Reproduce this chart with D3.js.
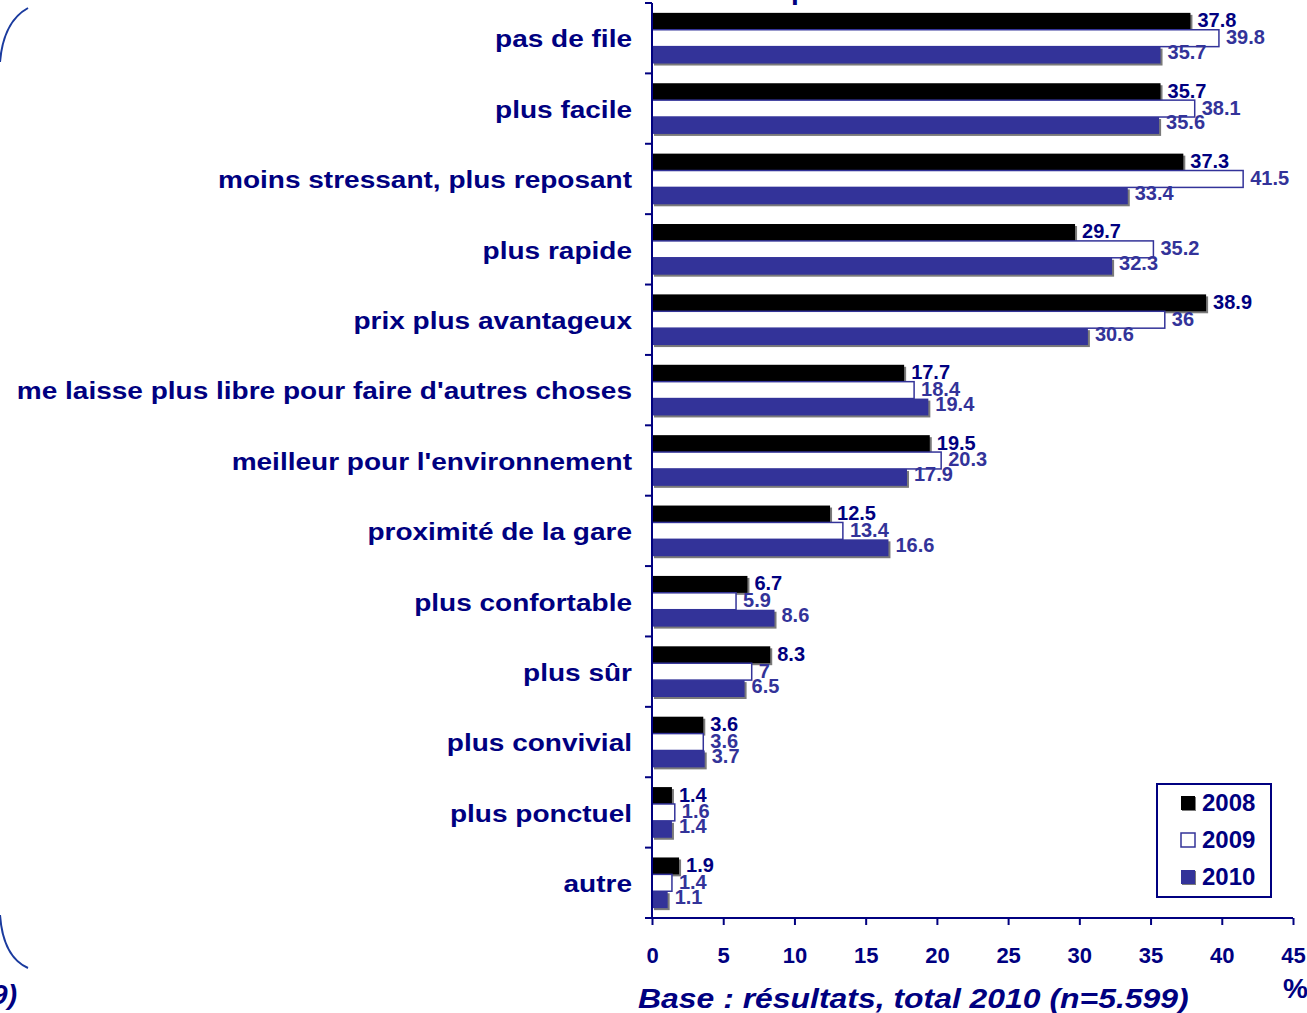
<!DOCTYPE html>
<html>
<head>
<meta charset="utf-8">
<script src="https://cdn.jsdelivr.net/npm/d3@7"></script>
<style>
    html, body { margin: 0; padding: 0; background: #fff; overflow: hidden; }
    svg { display: block; font-family: 'Liberation Sans', Arial, sans-serif; }
</style>
</head>
<body>
<svg id="chart"></svg>
<script>
// categories (top to bottom)
const categories = [
    'pas de file',
    'plus facile',
    'moins stressant, plus reposant',
    'plus rapide',
    'prix plus avantageux',
    "me laisse plus libre pour faire d'autres choses",
    "meilleur pour l'environnement",
    'proximité de la gare',
    'plus confortable',
    'plus sûr',
    'plus convivial',
    'plus ponctuel',
    'autre'
];
const years = ['2008', '2009', '2010'];
const values2008 = [37.8, 35.7, 37.3, 29.7, 38.9, 17.7, 19.5, 12.5, 6.7, 8.3, 3.6, 1.4, 1.9];
const values2009 = [39.8, 38.1, 41.5, 35.2, 36, 18.4, 20.3, 13.4, 5.9, 7, 3.6, 1.6, 1.4];
const values2010 = [35.7, 35.6, 33.4, 32.3, 30.6, 19.4, 17.9, 16.6, 8.6, 6.5, 3.7, 1.4, 1.1];
const xTicks = [0, 5, 10, 15, 20, 25, 30, 35, 40, 45];
const footnote = 'Base : résultats, total 2010 (n=5.599)';

const W = 1307, H = 1013;
const NAVY = '#000080', BLUE = '#333399';
const STRETCH = 1.167; // the slide fonts are drawn wider than normal

const series = [
    { key: '2008', values: values2008, fill: '#000000', stroke: 'none', label: NAVY, shadow: true, dy: -1 },
    { key: '2009', values: values2009, fill: '#ffffff', stroke: BLUE, label: BLUE, shadow: false, dy: -1 },
    { key: '2010', values: values2010, fill: BLUE, stroke: 'none', label: BLUE, shadow: true, dy: -3 }
];

const svg = d3.select('#chart').attr('width', W).attr('height', H);

// scales
const x = d3.scaleLinear().domain([0, 45]).range([652, 1293]);
const y = d3.scaleBand().domain(categories).range([3, 918])
    .paddingInner(0.28).paddingOuter(0.14);
const ySub = d3.scaleBand().domain(years).range([0, y.bandwidth()]);

// bars
const groups = svg.append('g').attr('class', 'bars')
    .selectAll('g.cat')
    .data(categories)
    .enter().append('g')
    .attr('class', 'cat')
    .attr('transform', d => 'translate(0,' + y(d) + ')');

series.forEach(function(s) {
    groups.each(function(cat, i) {
        let g = d3.select(this);
        let v = s.values[i];
        let by = ySub(s.key);
        let h = ySub.bandwidth();
        if (s.shadow) {
            g.append('rect')
                .attr('x', x(0) + 2).attr('y', by + 2)
                .attr('width', x(v) - x(0)).attr('height', h)
                .attr('fill', '#7a7a7a');
        }
        g.append('rect')
            .attr('x', x(0)).attr('y', by)
            .attr('width', x(v) - x(0)).attr('height', h)
            .attr('fill', s.fill)
            .attr('stroke', s.stroke)
            .attr('stroke-width', 1.5);
    });
});

// value labels
series.forEach(function(s) {
    groups.append('text')
        .attr('x', (d, i) => x(s.values[i]) + 7)
        .attr('y', ySub(s.key) + ySub.bandwidth() / 2 + s.dy)
        .attr('dominant-baseline', 'central')
        .attr('font-size', 20)
        .attr('font-weight', 'bold')
        .attr('fill', s.label)
        .text((d, i) => s.values[i]);
});

// category axis
const yAxis = svg.append('g').attr('class', 'y-axis');
yAxis.append('line')
    .attr('x1', x(0)).attr('x2', x(0))
    .attr('y1', y.range()[0]).attr('y2', y.range()[1])
    .attr('stroke', NAVY).attr('stroke-width', 2);
let bounds = d3.range(categories.length + 1).map(k => y.range()[0] + k * y.step());
yAxis.selectAll('line.tick')
    .data(bounds)
    .enter().append('line')
    .attr('class', 'tick')
    .attr('x1', x(0) - 7).attr('x2', x(0))
    .attr('y1', d => d).attr('y2', d => d)
    .attr('stroke', NAVY).attr('stroke-width', 2);
yAxis.selectAll('text.cat')
    .data(categories)
    .enter().append('text')
    .attr('class', 'cat')
    .attr('transform', d => 'translate(632,' + (y(d) + y.bandwidth() / 2 + 1) + ') scale(' + STRETCH + ',1)')
    .attr('text-anchor', 'end')
    .attr('dominant-baseline', 'central')
    .attr('font-size', 24)
    .attr('font-weight', 'bold')
    .attr('fill', NAVY)
    .text(d => d);

// value axis
const xAxis = svg.append('g')
    .attr('class', 'x-axis')
    .attr('transform', 'translate(0,' + y.range()[1] + ')')
    .call(d3.axisBottom(x).tickValues(xTicks).tickSize(7).tickSizeOuter(0).tickPadding(22));
xAxis.select('.domain').attr('stroke', NAVY).attr('stroke-width', 2)
    .attr('d', 'M' + (x(0) - 7) + ',0H' + x(45));
xAxis.selectAll('.tick line').attr('stroke', NAVY).attr('stroke-width', 2);
xAxis.selectAll('.tick text')
    .attr('fill', NAVY)
    .attr('font-size', 22)
    .attr('font-weight', 'bold')
    .attr('font-family', "'Liberation Sans', Arial, sans-serif");

svg.append('text')
    .attr('x', 1283).attr('y', 998)
    .attr('font-size', 28).attr('font-weight', 'bold')
    .attr('fill', NAVY)
    .text('%');

// footnote
svg.append('text')
    .attr('transform', 'translate(638,1008) scale(1.14,1)')
    .attr('font-size', 28).attr('font-weight', 'bold').attr('font-style', 'italic')
    .attr('fill', NAVY)
    .text(footnote);
// tail of a note from the neighbouring panel, cut by the left edge
svg.append('text')
    .attr('x', 17).attr('y', 1004)
    .attr('text-anchor', 'end')
    .attr('font-size', 28).attr('font-weight', 'bold').attr('font-style', 'italic')
    .attr('fill', NAVY)
    .text('(n=5.599)');

// clipped title above
svg.append('text')
    .attr('x', 791).attr('y', -1)
    .attr('font-size', 28).attr('font-weight', 'bold')
    .attr('fill', NAVY)
    .text('p');

// left bracket
svg.append('path')
    .attr('d', 'M28,8 C10,18 2,38 0,62')
    .attr('fill', 'none').attr('stroke', '#1a3a9e').attr('stroke-width', 2);
svg.append('path')
    .attr('d', 'M0,915 C2,942 10,960 28,968')
    .attr('fill', 'none').attr('stroke', '#1a3a9e').attr('stroke-width', 2);

// legend
const legend = svg.append('g').attr('class', 'legend').attr('transform', 'translate(1157,784)');
legend.append('rect')
    .attr('width', 114).attr('height', 113)
    .attr('fill', '#fff').attr('stroke', NAVY).attr('stroke-width', 2);
const item = legend.selectAll('g.item')
    .data(series)
    .enter().append('g')
    .attr('class', 'item')
    .attr('transform', (d, i) => 'translate(0,' + (19 + i * 37) + ')');
item.filter(d => d.shadow).append('rect')
    .attr('x', 25).attr('y', -6)
    .attr('width', 14).attr('height', 14)
    .attr('fill', '#7a7a7a');
item.append('rect')
    .attr('x', 24).attr('y', -7)
    .attr('width', 14).attr('height', 14)
    .attr('fill', d => d.fill)
    .attr('stroke', d => d.stroke).attr('stroke-width', 1.5);
item.append('text')
    .attr('x', 45).attr('y', -1)
    .attr('dominant-baseline', 'central')
    .attr('font-size', 24).attr('font-weight', 'bold')
    .attr('fill', NAVY)
    .text(d => d.key);
</script>
</body>
</html>
